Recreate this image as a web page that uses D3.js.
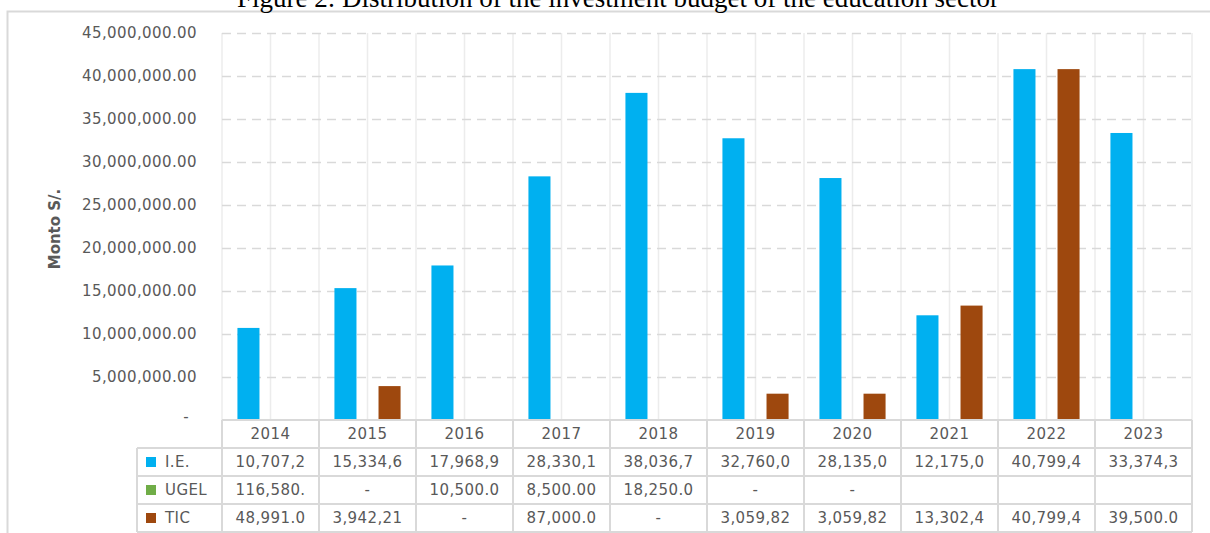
<!DOCTYPE html>
<html>
<head>
<meta charset="utf-8">
<script src="https://cdn.jsdelivr.net/npm/d3@7"></script>
<style>
    body { margin: 0; background: white; }
    #wrapper { width: 1210px; height: 533px; overflow: hidden; }
</style>
</head>
<body>
<div id="wrapper"></div>
<script>
// values (table cells are shown clipped, like in Excel)
const years = ["2014", "2015", "2016", "2017", "2018", "2019", "2020", "2021", "2022", "2023"];
const series_names = ["I.E.", "UGEL", "TIC"];
const series_colors = ["#00B0F0", "#70AD47", "#9E480E"];

const ie_values = [10707200, 15334600, 17968900, 28330100, 38036700, 32760000, 28135000, 12175000, 40799400, 33374300];
const ugel_values = [116580, 0, 10500, 8500, 18250, 0, 0, null, null, null];
const tic_values = [48991, 3942210, 0, 87000, 0, 3059820, 3059820, 13302400, 40799400, 39500];

const ie_labels = ["10,707,2", "15,334,6", "17,968,9", "28,330,1", "38,036,7", "32,760,0", "28,135,0", "12,175,0", "40,799,4", "33,374,3"];
const ugel_labels = ["116,580.", "-", "10,500.0", "8,500.00", "18,250.0", "-", "-", "", "", ""];
const tic_labels = ["48,991.0", "3,942,21", "-", "87,000.0", "-", "3,059,82", "3,059,82", "13,302,4", "40,799,4", "39,500.0"];

const y_ticks = [0, 5000000, 10000000, 15000000, 20000000, 25000000, 30000000, 35000000, 40000000, 45000000];

function drawChart() {
    const series_values = [ie_values, ugel_values, tic_values];
    const series_labels = [ie_labels, ugel_labels, tic_labels];

    let dimensions = {
        width: 1210,
        height: 533,
        margin: {
            top: 33,
            right: 18,
            bottom: 113,
            left: 222
        }
    };
    dimensions.bounded_width = dimensions.width - dimensions.margin.left - dimensions.margin.right;
    dimensions.bounded_height = dimensions.height - dimensions.margin.top - dimensions.margin.bottom;

    const text_color = "#595959";
    const font = "'DejaVu Sans', sans-serif";

    const wrapper = d3.select("#wrapper")
        .append("svg")
        .attr("width", dimensions.width)
        .attr("height", dimensions.height);

    // chart frame (right and bottom edges fall outside the crop)
    wrapper.append("rect")
        .attr("x", 7.5)
        .attr("y", 11.5)
        .attr("width", 1300)
        .attr("height", 600)
        .attr("fill", "white")
        .attr("stroke", "#d9d9d9")
        .attr("stroke-width", 2);

    wrapper.append("text")
        .attr("x", 618)
        .attr("y", 7)
        .attr("text-anchor", "middle")
        .attr("fill", "black")
        .style("font-family", "'Liberation Serif', 'Times New Roman', serif")
        .style("font-size", "27px")
        .text("Figure 2: Distribution of the investment budget of the education sector");

    const bounds = wrapper.append("g")
        .attr("transform", `translate(${dimensions.margin.left}, ${dimensions.margin.top})`);

    const x_scale = d3.scaleBand()
        .domain(years)
        .range([0, dimensions.bounded_width])
        .padding(0);

    const x_inner = d3.scaleBand()
        .domain(series_names)
        .range([0, x_scale.bandwidth()])
        .paddingInner(0)
        .paddingOuter(0.7);

    const y_scale = d3.scaleLinear()
        .domain([0, 45000000])
        .range([dimensions.bounded_height, 0]);

    // vertical grid: category edges and middles
    const v_lines = [];
    years.forEach(y => {
        v_lines.push(x_scale(y));
        v_lines.push(x_scale(y) + x_scale.bandwidth() / 2);
    });
    v_lines.push(dimensions.bounded_width);
    bounds.append("g")
        .selectAll("line")
        .data(v_lines)
        .enter().append("line")
        .attr("x1", d => d)
        .attr("x2", d => d)
        .attr("y1", 0)
        .attr("y2", dimensions.bounded_height)
        .attr("stroke", "#ececec")
        .attr("stroke-width", 1.5);

    // horizontal dashed grid
    const grid_gen = d3.axisLeft(y_scale)
        .tickValues(y_ticks.filter(d => d > 0))
        .tickSize(-dimensions.bounded_width)
        .tickFormat("");
    const grid = bounds.append("g").call(grid_gen);
    grid.select(".domain").remove();
    grid.selectAll("line")
        .attr("stroke", "#d9d9d9")
        .attr("stroke-width", 1.5)
        .attr("stroke-dasharray", "9,6");

    // bars
    series_names.forEach((name, i) => {
        const data = years.map((yr, j) => ({ year: yr, value: series_values[i][j] || 0 }));
        bounds.append("g")
            .selectAll("rect")
            .data(data)
            .enter().append("rect")
            .attr("x", d => x_scale(d.year) + x_inner(name))
            .attr("y", d => y_scale(d.value))
            .attr("width", x_inner.bandwidth())
            .attr("height", d => dimensions.bounded_height - y_scale(d.value))
            .attr("fill", series_colors[i]);
    });

    // y axis labels
    const y_axis_gen = d3.axisLeft(y_scale)
        .tickValues(y_ticks)
        .tickSize(0)
        .tickPadding(25)
        .tickFormat(d => d === 0 ? "-" : d3.format(",.2f")(d));
    const y_axis = bounds.append("g").call(y_axis_gen);
    y_axis.select(".domain").remove();
    y_axis.selectAll("text")
        .attr("fill", text_color)
        .style("font-family", font)
        .style("font-size", "15px")
        .style("letter-spacing", "0.4px");
    y_axis.selectAll(".tick")
        .filter(d => d === 0)
        .select("text")
        .attr("x", -33)
        .attr("dy", "0.1em");

    wrapper.append("text")
        .attr("transform", "translate(60, 229) rotate(-90)")
        .attr("text-anchor", "middle")
        .attr("fill", text_color)
        .style("font-family", font)
        .style("font-weight", "bold")
        .style("font-size", "15px")
        .text("Monto S/.");

    // data table under the plot
    const row_top = dimensions.margin.top + dimensions.bounded_height;
    const row_scale = d3.scaleBand()
        .domain(["header"].concat(series_names))
        .range([row_top, 532]);
    const label_left = 137;
    const table = wrapper.append("g")
        .attr("transform", `translate(${dimensions.margin.left}, 0)`);
    const border = "#d9d9d9";

    // header cells
    table.selectAll(".header")
        .data(years)
        .enter().append("text")
        .attr("class", "header")
        .attr("x", d => x_scale(d) + x_scale.bandwidth() / 2)
        .attr("y", row_scale("header") + row_scale.bandwidth() / 2)
        .attr("dy", "0.36em")
        .attr("text-anchor", "middle")
        .attr("fill", text_color)
        .style("font-family", font)
        .style("font-size", "15px")
        .style("letter-spacing", "0.4px")
        .text(d => d);

    series_names.forEach((name, i) => {
        const cy = row_scale(name) + row_scale.bandwidth() / 2;
        table.append("g")
            .selectAll("text")
            .data(years.map((yr, j) => ({ year: yr, label: series_labels[i][j] })))
            .enter().append("text")
            .attr("x", d => x_scale(d.year) + x_scale.bandwidth() / 2)
            .attr("y", cy)
            .attr("dy", "0.36em")
            .attr("text-anchor", "middle")
            .attr("fill", text_color)
            .style("font-family", font)
            .style("font-size", "15px")
            .style("letter-spacing", "0.4px")
            .text(d => d.label);

        wrapper.append("rect")
            .attr("x", 146)
            .attr("y", cy - 5)
            .attr("width", 10)
            .attr("height", 10)
            .attr("fill", series_colors[i]);
        wrapper.append("text")
            .attr("x", 165)
            .attr("y", cy)
            .attr("dy", "0.36em")
            .attr("fill", text_color)
            .style("font-family", font)
            .style("font-size", "15px")
            .style("letter-spacing", "0.4px")
            .text(name);
    });

    // table borders
    const right = dimensions.margin.left + dimensions.bounded_width;
    const h_rows = [row_scale("header"), row_scale(series_names[0]), row_scale(series_names[1]),
        row_scale(series_names[2]), row_scale(series_names[2]) + row_scale.bandwidth()];
    wrapper.append("g")
        .selectAll("line")
        .data(h_rows)
        .enter().append("line")
        .attr("x1", (d, i) => i === 0 ? dimensions.margin.left : label_left)
        .attr("x2", right)
        .attr("y1", d => d)
        .attr("y2", d => d)
        .attr("stroke", border)
        .attr("stroke-width", 2);
    const v_cols = years.map(y => dimensions.margin.left + x_scale(y)).concat([right]);
    wrapper.append("g")
        .selectAll("line")
        .data(v_cols)
        .enter().append("line")
        .attr("x1", d => d)
        .attr("x2", d => d)
        .attr("y1", row_top)
        .attr("y2", 532)
        .attr("stroke", border)
        .attr("stroke-width", 2);
    wrapper.append("line")
        .attr("x1", label_left)
        .attr("x2", label_left)
        .attr("y1", row_scale(series_names[0]))
        .attr("y2", 532)
        .attr("stroke", border)
        .attr("stroke-width", 2);
}

drawChart();
</script>
</body>
</html>
